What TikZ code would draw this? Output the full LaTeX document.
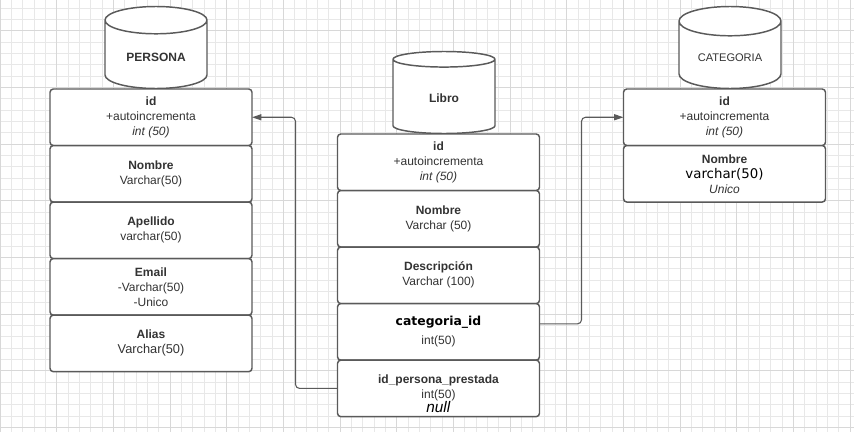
\documentclass[tikz,border=0pt]{standalone}
\usepackage{fontspec}
\setmainfont{Liberation Sans}
\newfontfamily\dejavu{DejaVu Sans}
\usepackage{tikz}
\usetikzlibrary{shapes.geometric,arrows.meta}
\definecolor{trait}{HTML}{5A5A5A}
\definecolor{texte}{HTML}{333333}
\definecolor{grille}{HTML}{E8E8E8}
\definecolor{grillef}{HTML}{D8D8D8}
\newcommand{\petit}{\fontsize{9}{11.25}\selectfont}

\begin{document}
\begin{tikzpicture}[x=0.75pt,y=-0.75pt,
  >={Triangle[length=7pt,width=4.5pt]},
  table/.style={
    cylinder,
    shape border rotate=90,
    aspect=0.4,
    draw=trait,
    line width=1.1pt,
    fill=white,
    minimum width=76.5pt,
    minimum height=61.5pt,
    outer sep=0pt,
    text=texte,
    font=\petit},
  champ/.style={
    rectangle,
    rounded corners=2.5pt,
    draw=trait,
    line width=1.1pt,
    fill=white,
    minimum width=151.5pt,
    minimum height=42.4pt,
    inner sep=0pt,
    outer sep=0pt,
    align=center,
    text=texte,
    font=\petit,
    anchor=north},
  lien/.style={draw=trait,line width=0.8pt,rounded corners=3pt}]
  \clip (0,0) rectangle (854,432);
  \fill[white] (0,0) rectangle (854,432);
  % fond quadrille
  \draw[grille,line width=0.5pt,step=8.5pt,yshift=-6pt] (-20,-20) grid (880,460);
  \draw[grillef,line width=0.5pt,step=42.5pt,yshift=-23pt] (-20,-60) grid (880,460);

  \coordinate (P) at (151,89);
  \coordinate (L) at (438.5,134);
  \coordinate (C) at (724.5,89);

  % PERSONA
  \node[table,anchor=south] (tpers) at (156,88.5) {\textbf{PERSONA}};
  \node[champ] (pid) at (P) {\textbf{id}\\+autoincrementa\\\textit{int (50)}};
  \node[champ] (pnom) at (pid.south) {\textbf{Nombre}\\Varchar(50)};
  \node[champ] (pape) at (pnom.south) {\textbf{Apellido}\\varchar(50)};
  \node[champ] (pmail) at (pape.south) {\textbf{Email}\\-Varchar(50)\\-Unico};
  \node[champ] (palias) at (pmail.south) {\textbf{Alias}\\{\fontsize{9.6}{11.25}\selectfont Varchar(50)}};

  % Libro
  \node[table,anchor=south] (tlib) at (444,133.5) {\textbf{Libro}};
  \node[champ] (lid) at (L) {\textbf{id}\\+autoincrementa\\\textit{int (50)}};
  \node[champ] (lnom) at (lid.south) {\textbf{Nombre}\\Varchar (50)};
  \node[champ] (ldesc) at (lnom.south) {\textbf{Descripción}\\Varchar (100)};
  \node[champ] (lcat) at (ldesc.south)
    {{\dejavu\bfseries\fontsize{9.3}{11.25}\selectfont\color{black}categoria\_id}\\[3pt]int(50)};
  \node[champ] (lpres) at (lcat.south)
    {\rule{0pt}{15pt}\textbf{id\_persona\_prestada}\\int(50)\\[-1pt]{\fontsize{11.5}{11.25}\selectfont\color{black}\textit{null}}};

  % CATEGORIA
  \node[table,anchor=south] (tcat) at (730,88.5) {\fontsize{8.3}{10}\selectfont CATEGORIA};
  \node[champ] (cid) at (C) {\textbf{id}\\+autoincrementa\\\textit{int (50)}};
  \node[champ] (cnom) at (cid.south)
    {\textbf{Nombre}\\{\dejavu\fontsize{10}{11.25}\selectfont\color{black}varchar(50)}\\\textit{Unico}};

  % relations
  \draw[lien,->] (lpres.west) -- ++(-42,0) |- (pid.east);
  \draw[lien,->] ([yshift=6pt]lcat.east) -- ++(42,0) |- (cid.west);
\end{tikzpicture}
\end{document}
